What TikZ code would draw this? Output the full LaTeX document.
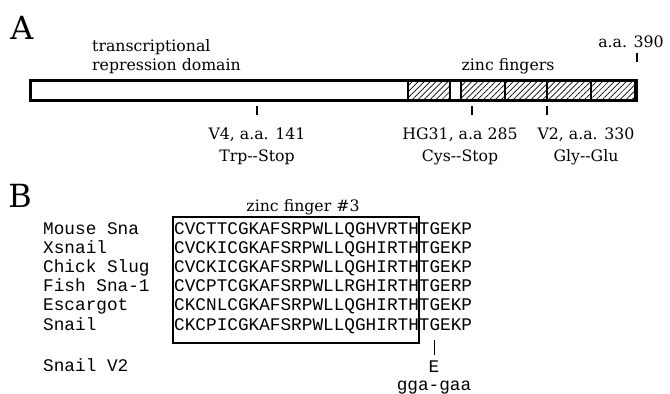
\documentclass[tikz,border=0pt]{standalone}
\usepackage{fontspec}
\setmainfont{DejaVu Serif}
\newfontfamily\seqfont{Liberation Mono}
\usetikzlibrary{patterns.meta}

\begin{document}
\begin{tikzpicture}[x=1bp, y=-1bp, font=\fontsize{15.8}{18}\selectfont,
  lbl/.style={inner sep=0pt, align=center},
  seq/.style={font=\seqfont\fontsize{17.8}{18}\selectfont, inner sep=0pt, anchor=west,
    text height=10bp, text depth=2bp},
  tick/.style={line width=1.3bp},
  zf/.style={pattern={Lines[angle=45, distance=4.2bp, line width=0.7bp]}, draw, line width=1.2bp}]
  \useasboundingbox (0,0) rectangle (670,393);
  % A: protein map, zinc fingers hatched
  \node[font=\fontsize{32}{32}\selectfont, inner sep=0pt] (pA) at (22,28) {A};
  \node[lbl, align=left, anchor=west, font=\fontsize{15.8}{19}\selectfont] (trd) at (92,57) {transcriptional\\repression domain};
  \node[lbl] (zfl) at (508,66) {zinc fingers};
  \node[lbl] (end) at (631,42) {a.a. 390};
  \foreach \a/\b in {408/450, 461/505, 505/547, 547/591, 591/635}
    \draw[zf] (\a,80) rectangle (\b,100);
  \draw[line width=3bp] (30,80) rectangle (636,100);
  % mutations
  \foreach \nm/\x/\lx/\txt in {v4/257/257/{V4, a.a. 141\\Trp-{}-Stop}, hg/472/460/{HG31, a.a 285\\Cys-{}-Stop}, v2/547/586/{V2, a.a. 330\\Gly-{}-Glu}} {
    \coordinate (\nm t) at (\x,106);
    \draw[tick] (\nm t) -- ++(0,9);
    \node[lbl, font=\fontsize{15.8}{22}\selectfont] (\nm) at (\lx,146) {\txt};
  }
  \coordinate (endt) at (637,53);
  \draw[tick] (endt) -- ++(0,9);
  % B: alignment of finger #3
  \node[font=\fontsize{32}{32}\selectfont, inner sep=0pt] (pB) at (20,196) {B};
  \node[lbl] (zf3) at (303,207) {zinc finger \#3};
  \foreach \name/\sq [count=\i] in {Mouse Sna/CVCTTCGKAFSRPWLLQGHVRTHTGEKP, Xsnail/CVCKICGKAFSRPWLLQGHIRTHTGEKP,
      Chick Slug/CVCKICGKAFSRPWLLQGHIRTHTGEKP, Fish Sna-1/CVCPTCGKAFSRPWLLRGHIRTHTGERP,
      Escargot/CKCNLCGKAFSRPWLLQGHIRTHTGEKP, Snail/CKCPICGKAFSRPWLLQGHIRTHTGEKP} {
    \node[seq] (n\i) at (43,{230+19.2*(\i-1)}) {\name};
    \node[seq] (s\i) at (174,{230+19.2*(\i-1)}) {\sq};
  }
  \draw[line width=1.5bp] (173,217) rectangle (419,343);
  \node[seq] (nv2) at (43,367) {Snail V2};
  \coordinate (gt) at (434,340);
  \draw[line width=0.8bp] (gt) -- ++(0,15);
  \node[seq, anchor=center] (ev2) at (434,368) {E};
  \node[seq, anchor=center] (cod) at (434,386) {gga-gaa};
\end{tikzpicture}
\end{document}
